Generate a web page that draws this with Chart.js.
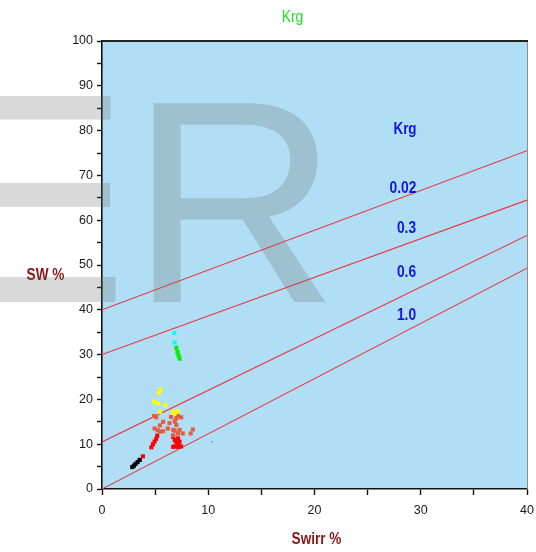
<!DOCTYPE html>
<html><head><meta charset="utf-8">
<script src="https://cdn.jsdelivr.net/npm/chart.js@4.4.1/dist/chart.umd.min.js"></script>
<style>html,body{margin:0;padding:0;background:#fff}#wrap{width:536px;height:552px;position:relative}</style>
</head><body><div id="wrap"><canvas id="c"></canvas></div>
<script>
// ---- data (Swirr %, SW %) ----
const yellowSwirr = [5.5, 5.35, 4.9, 5.3, 5.95, 5.45, 6.65, 6.95, 6.85, 7.1];
const yellowSw    = [22.2, 21.4, 19.5, 19.1, 18.7, 17.2, 17.1, 17.4, 16.9, 17.3];
const orangeSwirr = [4.9, 5.1, 6.5, 7.15, 7.45, 5.75, 6.35, 6.85, 7.0, 5.45, 4.95, 5.25, 6.2, 6.7, 6.85, 7.3, 7.15, 7.6, 6.7, 5.45, 8.55, 8.35, 7.0, 5.75];
const orangeSw    = [16.3, 16.0, 16.1, 16.3, 16.0, 15.0, 14.7, 15.1, 14.3, 14.2, 13.5, 13.1, 13.5, 13.2, 13.0, 13.2, 12.4, 12.4, 12.0, 12.8, 13.3, 12.4, 15.8, 12.9];
const redSwirr    = [5.2, 5.1, 4.95, 4.8, 4.65, 3.85, 6.7, 7.15, 7.3, 7.2, 7.15, 6.85, 6.7, 7.45, 6.85, 7.0];
const redSw       = [11.9, 11.2, 10.6, 10.0, 9.3, 7.3, 11.6, 11.3, 10.6, 9.9, 9.4, 9.5, 9.4, 9.5, 10.9, 10.4];
const blackSwirr  = [3.55, 3.35, 3.15, 3.0, 2.85];
const blackSw     = [6.5, 6.0, 5.6, 5.2, 4.9];
const cyanSwirr   = [6.8, 6.85];
const cyanSw      = [34.8, 32.7];
const greenSwirr  = [7.0, 7.1, 7.2, 7.3];
const greenSw     = [31.5, 30.6, 29.8, 29.1];
const greySwirr   = [10.35];
const greySw      = [10.6];
// Krg iso-lines: SW at Swirr = 0 and at Swirr = 40
const krgLabels   = ['0.02', '0.3', '0.6', '1.0'];
const lineStartSw = [40, 30, 10.5, 0];
const lineEndSw   = [75.5, 64.5, 56.6, 49.3];
const lineSwirr   = [0, 40];
const xTicks = [0, 10, 20, 30, 40];
const yTicks = [0, 10, 20, 30, 40, 50, 60, 70, 80, 90, 100];

const pts = (xs, ys) => xs.map((x, i) => ({x: x, y: ys[i]}));
const scatter = (data, color, r) => ({type: 'scatter', data: data, pointStyle: 'rect', pointRadius: r, pointHoverRadius: r, backgroundColor: color, borderWidth: 0, order: 1});

const datasets = [];
krgLabels.forEach((lab, i) => {
  datasets.push({type: 'line', label: 'Krg ' + lab, data: [{x: lineSwirr[0], y: lineStartSw[i]}, {x: lineSwirr[1], y: lineEndSw[i]}],
    borderColor: 'rgb(236,52,62)', borderWidth: 1.1, pointRadius: 0, fill: false, tension: 0, order: 2});
});
datasets.push(scatter(pts(yellowSwirr, yellowSw), '#ffff00', 2.9));
datasets.push(scatter(pts(orangeSwirr, orangeSw), 'rgb(232,92,60)', 2.9));
datasets.push(scatter(pts(redSwirr, redSw), '#ff0000', 2.9));
datasets.push(scatter(pts(blackSwirr, blackSw), '#000000', 2.9));
datasets.push(scatter(pts(cyanSwirr, cyanSw), '#00ffff', 2.9));
datasets.push(scatter(pts(greenSwirr, greenSw), '#00ee00', 2.9));
datasets.push(scatter(pts(greySwirr, greySw), '#607080', 0.9));

function condText(ctx, text, x, y, font, color, sx) {
  ctx.save();
  ctx.font = font; ctx.fillStyle = color;
  ctx.textAlign = 'center'; ctx.textBaseline = 'middle';
  ctx.translate(x, y); ctx.scale(sx, 1);
  ctx.fillText(text, 0, 0);
  ctx.restore();
}

const deco = {
  id: 'deco',
  beforeDraw(chart) {
    const {ctx, chartArea: a} = chart;
    ctx.save();
    ctx.fillStyle = 'rgb(176,222,245)';
    ctx.fillRect(a.left, a.top, a.right - a.left, a.bottom - a.top);
    ctx.restore();
  },
  afterDatasetsDraw(chart) {
    const {ctx, chartArea: a} = chart;
    ctx.save();
    ctx.strokeStyle = '#8a8f94'; ctx.lineWidth = 1;
    ctx.beginPath(); ctx.moveTo(a.right + 0.5, a.top); ctx.lineTo(a.right + 0.5, a.bottom); ctx.stroke();
    ctx.strokeStyle = '#222'; ctx.lineWidth = 2;
    ctx.beginPath(); ctx.moveTo(a.left, a.top); ctx.lineTo(a.right + 1, a.top); ctx.stroke();
    ctx.restore();
  },
  afterDraw(chart) {
    const {ctx, chartArea: a} = chart;
    const F = '"Liberation Sans", Arial, sans-serif';
    // title
    condText(ctx, 'Krg', 292.5, 18, '16px ' + F, '#22e322', 0.87);
    // axis titles
    condText(ctx, 'SW %', 45.5, 276, 'bold 16px ' + F, '#8b1414', 0.85);
    condText(ctx, 'Swirr %', 316.5, 540, 'bold 16px ' + F, '#8b1414', 0.85);
    // Krg labels
    const cx = a.left + 303;
    condText(ctx, 'Krg', cx, 130, 'bold 16px ' + F, '#1414e6', 0.84);
    const labY = [189, 229, 272.5, 316];
    krgLabels.forEach((lab, i) => condText(ctx, lab, cx + (i === 0 ? -2 : 1.5), labY[i], 'bold 16px ' + F, '#1414e6', 0.86));
    // watermark
    ctx.save();
    ctx.fillStyle = 'rgba(105,105,105,0.25)';
    ctx.fillRect(0, 96, 110.5, 23.5);
    ctx.fillRect(0, 183, 110, 24);
    ctx.fillRect(0, 277, 115.5, 25);
    ctx.font = '289px ' + F;
    ctx.textAlign = 'left'; ctx.textBaseline = 'alphabetic';
    ctx.fillText('R', 130, 302);
    ctx.restore();
  }
};

const tickFont = {family: '"Liberation Sans", Arial, sans-serif', size: 12.5};

new Chart(document.getElementById('c'), {
  data: {datasets: datasets},
  options: {
    responsive: true, maintainAspectRatio: false, animation: false,
    layout: {padding: {top: 41, right: 9, bottom: 0, left: 0}},
    plugins: {legend: {display: false}, tooltip: {enabled: false}, title: {display: false}},
    scales: {
      x: {type: 'linear', min: 0, max: 40,
        ticks: {stepSize: 5, autoSkip: false, maxRotation: 0, color: '#1a1a1a', font: tickFont, padding: 8,
          callback: v => xTicks.includes(v) ? String(v) : ''},
        grid: {drawOnChartArea: false, drawTicks: true, tickLength: 6, tickColor: '#111', tickWidth: 1.4},
        border: {color: '#111', width: 1.6},
        afterFit: s => { s.height = 63; s.paddingLeft = 0; s.paddingRight = 0; }
      },
      y: {type: 'linear', min: 0, max: 100,
        ticks: {stepSize: 5, autoSkip: false, color: '#1a1a1a', font: tickFont, padding: 4,
          callback: v => yTicks.includes(v) ? String(v) : ''},
        grid: {drawOnChartArea: false, drawTicks: true, tickLength: 5, tickColor: '#111', tickWidth: 1.4},
        border: {color: '#111', width: 1.6},
        afterFit: s => { s.width = 102; s.paddingTop = 0; s.paddingBottom = 0; }
      }
    }
  },
  plugins: [deco]
});
</script></body></html>
